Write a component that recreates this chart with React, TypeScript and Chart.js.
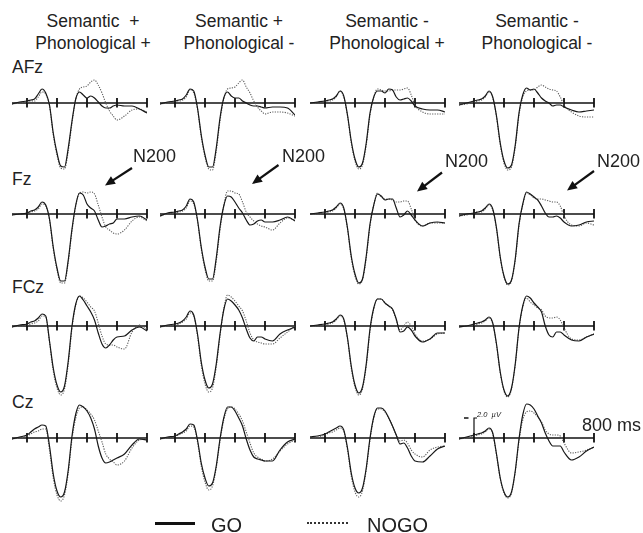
import { useEffect, useRef } from "react";
import { Chart, registerables } from "chart.js";

Chart.register(...registerables);

// ---------- data ----------
const TIMES_MS = [-100, -50, 0, 25, 50, 75, 100, 125, 150, 175, 200, 225, 250, 275, 300, 325, 350, 375, 400, 425, 450, 475, 500, 525, 550, 575, 600, 650, 700, 750, 800];
const TICKS_MS = [0, 200, 400, 600, 800];
const Y_MIN_UV = -7.5;
const Y_MAX_UV = 4;
const SCALE_BAR_UV = 2;

const CONDITION_TOP = ["Semantic  +", "Semantic +", "Semantic -", "Semantic -"];
const CONDITION_BOTTOM = ["Phonological +", "Phonological -", "Phonological +", "Phonological -"];
const ELECTRODES = ["AFz", "Fz", "FCz", "Cz"];
const SERIES_NAMES = ["GO", "NOGO"];
const ARROW_LABEL = "N200";
const TIME_LABEL = "800 ms";
const SCALE_LABEL = "2.0  µV";

// AFz
const AFZ_SPPP_GO = [-0.1, 0.1, 0.2, 0.3, 0.4, 0.9, 1.4, 1.0, -0.2, -3.0, -5.0, -6.3, -6.4, -4.5, -1.8, 0.4, 1.1, 0.8, 0.5, 0.7, 0.5, 0.1, -0.3, -0.5, -0.5, -0.3, -0.2, -0.3, -0.3, -0.6, -1.0];
const AFZ_SPPP_NOGO = [-0.1, 0.0, 0.1, 0.2, 0.2, 0.6, 1.1, 0.9, -0.3, -3.2, -5.2, -6.5, -6.6, -4.8, -2.0, 0.4, 1.4, 1.6, 1.7, 2.1, 2.3, 1.8, 1.0, 0.0, -0.8, -1.3, -1.7, -1.3, -0.7, -0.6, -0.9];
const AFZ_SPPN_GO = [-0.1, 0.1, 0.2, 0.3, 0.4, 0.8, 1.4, 1.2, -0.5, -3.2, -5.2, -6.4, -6.4, -4.5, -1.5, 0.5, 1.1, 0.7, 0.5, 0.5, 0.2, 0.0, -0.2, -0.3, -0.3, -0.4, -0.5, -0.4, -0.4, -0.5, -1.2];
const AFZ_SPPN_NOGO = [-0.1, 0.0, 0.2, 0.2, 0.3, 0.6, 1.3, 1.0, -0.6, -3.4, -5.4, -6.6, -6.7, -4.8, -1.8, 0.4, 1.4, 1.5, 1.6, 2.0, 2.3, 1.6, 1.0, 0.2, -0.4, -0.8, -1.1, -0.9, -0.9, -1.0, -1.3];
const AFZ_SNPP_GO = [0.0, 0.1, 0.2, 0.3, 0.4, 0.7, 1.2, 0.7, -1.2, -3.8, -5.6, -6.4, -6.0, -4.0, -1.0, 0.6, 1.2, 1.2, 1.0, 1.4, 1.3, 0.6, 0.3, 0.4, 0.5, 0.2, -0.3, -0.6, -0.7, -0.7, -0.9];
const AFZ_SNPP_NOGO = [0.0, 0.0, 0.2, 0.2, 0.3, 0.6, 1.2, 0.6, -1.3, -4.0, -5.8, -6.6, -6.2, -4.2, -1.2, 0.6, 1.4, 1.3, 1.2, 1.2, 1.3, 1.3, 1.3, 1.4, 1.5, 0.8, -0.2, -0.9, -1.1, -1.1, -1.1];
const AFZ_SNPN_GO = [-0.2, 0.0, 0.2, 0.3, 0.4, 0.7, 1.2, 0.6, -1.3, -4.0, -5.8, -6.5, -6.2, -4.2, -1.0, 0.8, 1.5, 1.3, 1.4, 1.0, 0.5, 0.2, 0.0, -0.3, -0.2, -0.2, -0.4, -0.7, -0.9, -0.8, -0.7];
const AFZ_SNPN_NOGO = [-0.2, -0.1, 0.1, 0.2, 0.3, 0.6, 1.1, 0.5, -1.4, -4.2, -6.0, -6.7, -6.4, -4.4, -1.2, 0.6, 1.2, 1.3, 1.3, 1.6, 1.8, 1.6, 1.4, 1.3, 1.2, 0.6, -0.2, -0.9, -1.3, -1.4, -1.4];

// Fz
const FZ_SPPP_GO = [-0.1, 0.0, 0.1, 0.3, 0.4, 0.7, 1.2, 0.9, -0.5, -3.3, -5.4, -6.7, -6.7, -4.6, -1.5, 0.9, 2.1, 1.9, 1.0, 0.6, 0.3, -0.6, -1.3, -1.2, -1.0, -0.9, -0.5, -0.5, -0.3, -0.2, -0.6];
const FZ_SPPP_NOGO = [-0.1, 0.0, 0.1, 0.2, 0.3, 0.5, 1.0, 0.8, -0.6, -3.5, -5.6, -6.9, -6.9, -4.8, -1.7, 0.8, 2.1, 2.2, 2.1, 2.2, 2.0, 0.9, -0.3, -1.3, -1.6, -1.9, -2.0, -1.6, -0.7, -0.3, -0.7];
const FZ_SPPN_GO = [-0.2, 0.1, 0.2, 0.3, 0.4, 0.8, 1.5, 1.2, -0.6, -3.3, -5.3, -6.5, -6.5, -4.4, -1.3, 0.8, 1.8, 1.7, 1.2, 0.6, 0.1, -0.6, -1.1, -1.0, -0.7, -0.6, -0.8, -0.8, -0.6, -0.3, -0.7];
const FZ_SPPN_NOGO = [-0.2, 0.0, 0.1, 0.2, 0.3, 0.6, 1.3, 1.0, -0.7, -3.5, -5.5, -6.7, -6.7, -4.7, -1.6, 0.8, 2.3, 2.3, 2.1, 2.0, 1.2, 0.2, -0.3, -0.7, -1.0, -1.2, -1.3, -1.6, -0.9, -0.4, -0.6];
const FZ_SNPP_GO = [0.0, 0.1, 0.2, 0.3, 0.4, 0.7, 1.1, 0.6, -1.4, -4.2, -6.0, -6.9, -6.5, -4.2, -1.0, 0.9, 2.0, 1.8, 1.4, 1.5, 1.5, 0.6, -0.3, -0.1, 0.3, -0.1, -0.6, -1.2, -0.9, -0.8, -0.9];
const FZ_SNPP_NOGO = [0.0, 0.0, 0.1, 0.2, 0.3, 0.6, 1.0, 0.5, -1.5, -4.4, -6.2, -7.0, -6.6, -4.4, -1.2, 0.9, 2.1, 1.7, 1.5, 1.5, 1.4, 1.2, 1.2, 1.3, 1.3, 0.5, -0.6, -1.2, -0.9, -0.9, -0.9];
const FZ_SNPN_GO = [-0.2, 0.0, 0.1, 0.2, 0.3, 0.6, 1.0, 0.5, -1.4, -4.3, -6.2, -7.0, -6.6, -4.5, -1.0, 1.0, 2.2, 2.0, 1.7, 1.4, 0.8, 0.1, -0.3, -0.3, -0.2, -0.4, -0.8, -1.2, -1.1, -0.8, -0.7];
const FZ_SNPN_NOGO = [-0.2, -0.1, 0.1, 0.2, 0.2, 0.5, 0.9, 0.4, -1.5, -4.4, -6.3, -7.1, -6.7, -4.6, -1.2, 0.9, 2.1, 1.9, 1.6, 1.5, 1.5, 1.4, 1.3, 1.2, 1.2, 0.8, -0.2, -1.1, -1.2, -0.9, -1.1];

// FCz
const FCZ_SPPP_GO = [-0.1, 0.1, 0.2, 0.4, 0.5, 0.8, 1.2, 1.0, -1.5, -4.2, -5.9, -6.6, -6.0, -3.5, 0.0, 2.2, 3.0, 2.6, 2.0, 1.4, 0.6, -0.7, -1.8, -2.2, -1.9, -1.4, -1.1, -1.0, -0.4, -0.1, -0.5];
const FCZ_SPPP_NOGO = [-0.1, 0.0, 0.1, 0.2, 0.3, 0.5, 1.0, 0.9, -1.6, -4.5, -6.2, -6.9, -6.3, -3.8, -0.2, 2.1, 3.0, 2.8, 2.4, 1.9, 1.5, 0.3, -1.0, -1.8, -1.9, -1.9, -2.1, -2.3, -0.6, 0.1, -0.3];
const FCZ_SPPN_GO = [-0.1, 0.1, 0.2, 0.3, 0.5, 0.9, 1.5, 1.1, -0.8, -3.6, -5.4, -6.2, -5.8, -3.8, -0.8, 1.6, 2.7, 2.5, 2.1, 1.6, 0.8, -0.3, -1.2, -1.5, -1.1, -1.1, -1.3, -1.5, -0.8, -0.4, -0.1];
const FCZ_SPPN_NOGO = [-0.1, 0.0, 0.1, 0.2, 0.4, 0.7, 1.3, 1.0, -1.0, -3.9, -5.8, -6.6, -6.2, -4.1, -1.0, 1.7, 3.1, 2.9, 2.5, 2.0, 1.5, 0.5, -0.7, -1.4, -1.6, -1.7, -1.8, -1.8, -1.2, -0.6, 0.0];
const FCZ_SNPP_GO = [0.0, 0.1, 0.2, 0.3, 0.4, 0.7, 1.1, 0.7, -1.2, -4.0, -5.9, -6.7, -6.1, -3.8, -0.3, 1.8, 2.7, 2.7, 2.3, 2.0, 1.7, 0.7, -0.6, -0.5, -0.1, -0.4, -1.0, -1.6, -1.3, -0.7, -0.7];
const FCZ_SNPP_NOGO = [0.0, 0.0, 0.1, 0.2, 0.3, 0.6, 1.0, 0.6, -1.3, -4.2, -6.1, -6.9, -6.3, -4.0, -0.5, 1.7, 2.7, 2.7, 2.3, 2.0, 1.6, 0.6, -0.4, 0.0, 0.4, 0.0, -0.8, -1.5, -1.3, -0.8, -0.7];
const FCZ_SNPN_GO = [-0.1, 0.0, 0.2, 0.3, 0.4, 0.6, 0.9, 0.3, -1.8, -4.6, -6.4, -7.0, -6.2, -3.8, -0.2, 2.0, 3.0, 2.8, 2.3, 1.9, 1.4, 0.0, -0.9, -1.1, -0.6, -0.6, -0.9, -1.4, -1.5, -1.1, -0.8];
const FCZ_SNPN_NOGO = [-0.1, 0.0, 0.1, 0.2, 0.3, 0.5, 0.8, 0.2, -1.9, -4.7, -6.5, -7.1, -6.3, -3.9, -0.3, 1.9, 2.8, 2.4, 2.1, 1.8, 1.6, 1.0, 0.8, 0.8, 0.9, 0.6, -0.2, -1.3, -1.4, -1.1, -0.8];

// Cz
const CZ_SPPP_GO = [-0.1, 0.1, 0.3, 0.6, 0.9, 1.1, 1.3, 1.2, -0.8, -3.6, -5.3, -5.9, -5.4, -3.2, 0.2, 2.4, 3.3, 3.1, 2.7, 2.0, 0.9, -0.8, -2.0, -2.5, -2.4, -2.2, -2.0, -1.6, -0.7, -0.1, -0.2];
const CZ_SPPP_NOGO = [-0.1, 0.0, 0.2, 0.4, 0.6, 0.7, 0.9, 0.9, -1.2, -4.0, -5.7, -6.3, -5.7, -3.5, -0.1, 2.0, 3.0, 3.1, 2.8, 2.4, 1.8, 0.7, -0.4, -1.6, -2.1, -2.4, -2.7, -2.3, -1.0, -0.2, -0.1];
const CZ_SPPN_GO = [-0.1, 0.1, 0.2, 0.4, 0.6, 0.9, 1.4, 1.3, -0.2, -2.5, -4.0, -4.8, -4.5, -2.8, -0.1, 2.0, 3.1, 3.1, 2.7, 2.0, 1.2, -0.1, -1.2, -1.9, -2.1, -2.2, -2.3, -2.3, -1.2, -0.4, -0.1];
const CZ_SPPN_NOGO = [-0.1, 0.0, 0.2, 0.3, 0.5, 0.7, 1.2, 1.1, -0.4, -2.8, -4.4, -5.2, -4.8, -3.0, -0.3, 1.8, 2.9, 3.1, 2.9, 2.4, 1.7, 0.6, -0.5, -1.5, -1.9, -2.1, -2.3, -2.1, -1.3, -0.6, -0.2];
const CZ_SNPP_GO = [0.1, 0.2, 0.4, 0.6, 0.8, 1.0, 1.2, 0.8, -1.0, -3.5, -5.0, -5.5, -5.0, -3.0, 0.0, 2.1, 3.0, 3.0, 2.7, 2.0, 1.2, 0.3, -0.6, -0.5, -1.0, -1.8, -2.3, -2.4, -1.8, -1.1, -0.8];
const CZ_SNPP_NOGO = [0.1, 0.1, 0.3, 0.5, 0.6, 0.8, 1.0, 0.7, -1.2, -3.8, -5.4, -5.9, -5.3, -3.2, -0.2, 2.0, 2.9, 2.9, 2.6, 2.0, 1.2, 0.3, -0.3, -0.2, -0.5, -1.2, -1.6, -1.9, -1.2, -0.9, -0.8];
const CZ_SNPN_GO = [-0.1, 0.1, 0.3, 0.4, 0.5, 0.7, 1.0, 0.5, -1.6, -4.0, -5.4, -5.9, -5.4, -3.3, -0.1, 2.3, 3.4, 3.3, 2.9, 2.2, 1.5, 0.5, -0.3, -0.8, -0.8, -0.8, -1.4, -2.2, -1.9, -1.3, -0.9];
const CZ_SNPN_NOGO = [-0.1, 0.0, 0.2, 0.3, 0.4, 0.6, 0.9, 0.4, -1.7, -4.1, -5.5, -6.0, -5.5, -3.4, -0.3, 1.8, 2.6, 2.7, 2.5, 2.1, 1.6, 0.8, 0.4, 0.3, 0.3, 0.2, -0.5, -1.5, -1.4, -1.2, -0.9];

const GO_ROWS = [
  [AFZ_SPPP_GO, AFZ_SPPN_GO, AFZ_SNPP_GO, AFZ_SNPN_GO],
  [FZ_SPPP_GO, FZ_SPPN_GO, FZ_SNPP_GO, FZ_SNPN_GO],
  [FCZ_SPPP_GO, FCZ_SPPN_GO, FCZ_SNPP_GO, FCZ_SNPN_GO],
  [CZ_SPPP_GO, CZ_SPPN_GO, CZ_SNPP_GO, CZ_SNPN_GO],
];
const NOGO_ROWS = [
  [AFZ_SPPP_NOGO, AFZ_SPPN_NOGO, AFZ_SNPP_NOGO, AFZ_SNPN_NOGO],
  [FZ_SPPP_NOGO, FZ_SPPN_NOGO, FZ_SNPP_NOGO, FZ_SNPN_NOGO],
  [FCZ_SPPP_NOGO, FCZ_SPPN_NOGO, FCZ_SNPP_NOGO, FCZ_SNPN_NOGO],
  [CZ_SPPP_NOGO, CZ_SPPN_NOGO, CZ_SNPP_NOGO, CZ_SNPN_NOGO],
];

// ---------- layout ----------
const FONT = "'Liberation Sans', Arial, Helvetica, sans-serif";
const TEXT_COLOR = "#222";
const COL_ZERO_X = [27, 175, 325, 474];
const ROW_ZERO_Y = [103, 214, 326, 438];
const PAD = 5;
const PX_PER_MS = 0.15;
const PX_PER_UV = 10;
const PLOT_W = (TIMES_MS[TIMES_MS.length - 1] - TIMES_MS[0]) * PX_PER_MS;
const PLOT_H = (Y_MAX_UV - Y_MIN_UV) * PX_PER_UV;
const CANVAS_W = PLOT_W + PAD * 2;
const CANVAS_H = PLOT_H + PAD * 2;
const TITLE_CX = [93, 239, 387, 537];
const ARROWS = [
  { x1: 132, y1: 168, x2: 105, y2: 185.5, tx: 133, ty: 162 },
  { x1: 278.5, y1: 165, x2: 252, y2: 184, tx: 282, ty: 162 },
  { x1: 442, y1: 172.5, x2: 417, y2: 191.5, tx: 445, ty: 167 },
  { x1: 594, y1: 171, x2: 567, y2: 190.5, tx: 597, ty: 167 },
];

const erpAxis = {
  id: "erpAxis",
  beforeDatasetsDraw(chart: any, _args: any, opts: any) {
    const { ctx, scales } = chart;
    const x = scales.x;
    const y = scales.y;
    const y0 = y.getPixelForValue(0);
    ctx.save();
    ctx.strokeStyle = "#111";
    ctx.lineWidth = 1.6;
    ctx.beginPath();
    ctx.moveTo(x.getPixelForValue(TIMES_MS[0]), y0);
    ctx.lineTo(x.getPixelForValue(TICKS_MS[TICKS_MS.length - 1]), y0);
    ctx.stroke();
    ctx.lineWidth = 1.8;
    ctx.beginPath();
    TICKS_MS.forEach((t) => {
      const px = x.getPixelForValue(t);
      ctx.moveTo(px, y0 - 5);
      ctx.lineTo(px, y0 + 4.5);
    });
    ctx.stroke();
    if (opts && opts.scaleBar) {
      const px = x.getPixelForValue(0);
      const yt = y.getPixelForValue(SCALE_BAR_UV);
      ctx.lineWidth = 1.2;
      ctx.beginPath();
      ctx.moveTo(px, y0);
      ctx.lineTo(px, yt);
      ctx.lineTo(px + 3, yt);
      ctx.stroke();
      ctx.lineWidth = 1.5;
      ctx.beginPath();
      ctx.moveTo(px - 10, yt);
      ctx.lineTo(px - 5.5, yt);
      ctx.stroke();
    }
    ctx.restore();
  },
};

function Panel({ go, nogo, left, top, scaleBar }: { go: number[]; nogo: number[]; left: number; top: number; scaleBar: boolean }) {
  const ref = useRef<HTMLCanvasElement>(null);
  useEffect(() => {
    if (!ref.current) return;
    const chart = new Chart(ref.current, {
      type: "line",
      data: {
        datasets: [
          {
            label: SERIES_NAMES[0],
            data: TIMES_MS.map((t, i) => ({ x: t, y: go[i] })),
            borderColor: "#181818",
            borderWidth: 1.2,
            pointRadius: 0,
            cubicInterpolationMode: "monotone",
            fill: false,
          },
          {
            label: SERIES_NAMES[1],
            data: TIMES_MS.map((t, i) => ({ x: t, y: nogo[i] })),
            borderColor: "#5c5c5c",
            borderWidth: 1.1,
            borderDash: [1.2, 1.3],
            pointRadius: 0,
            cubicInterpolationMode: "monotone",
            fill: false,
          },
        ],
      },
      options: {
        responsive: false,
        animation: false,
        events: [],
        layout: { padding: PAD },
        scales: {
          x: { type: "linear", min: TIMES_MS[0], max: TIMES_MS[TIMES_MS.length - 1], display: false },
          y: { type: "linear", min: Y_MIN_UV, max: Y_MAX_UV, display: false },
        },
        plugins: {
          legend: { display: false },
          tooltip: { enabled: false },
          erpAxis: { scaleBar },
        } as any,
      },
      plugins: [erpAxis],
    } as any);
    return () => chart.destroy();
  }, [go, nogo, scaleBar]);
  return (
    <canvas
      ref={ref}
      width={CANVAS_W}
      height={CANVAS_H}
      style={{ position: "absolute", left, top, width: CANVAS_W, height: CANVAS_H }}
    />
  );
}

function Txt({ x, baseline, size, children, center, width, italic }: any) {
  const top = baseline - size * 0.8465;
  const style: any = {
    position: "absolute",
    top,
    fontSize: size,
    lineHeight: `${size}px`,
    fontFamily: FONT,
    color: TEXT_COLOR,
    whiteSpace: "pre",
    fontStyle: italic ? "italic" : "normal",
  };
  if (center) {
    style.left = x - width / 2;
    style.width = width;
    style.textAlign = "center";
  } else {
    style.left = x;
  }
  return <div style={style}>{children}</div>;
}

function Arrow({ x1, y1, x2, y2 }: { x1: number; y1: number; x2: number; y2: number }) {
  const ang = Math.atan2(y2 - y1, x2 - x1);
  const len = 10;
  const hw = 4.5;
  const bx = x2 - Math.cos(ang) * len;
  const by = y2 - Math.sin(ang) * len;
  const nx = -Math.sin(ang);
  const ny = Math.cos(ang);
  const pts = `${x2},${y2} ${bx + nx * hw},${by + ny * hw} ${bx - nx * hw},${by - ny * hw}`;
  return (
    <g>
      <line x1={x1} y1={y1} x2={bx + Math.cos(ang) * 2} y2={by + Math.sin(ang) * 2} stroke="#111" strokeWidth={2.2} />
      <polygon points={pts} fill="#111" />
    </g>
  );
}

export default function App() {
  const panels: any[] = [];
  ROW_ZERO_Y.forEach((zy, r) => {
    COL_ZERO_X.forEach((zx, c) => {
      panels.push(
        <Panel
          key={`${r}-${c}`}
          go={GO_ROWS[r][c]}
          nogo={NOGO_ROWS[r][c]}
          left={zx - (0 - TIMES_MS[0]) * PX_PER_MS - PAD}
          top={zy - Y_MAX_UV * PX_PER_UV - PAD}
          scaleBar={r === 3 && c === 3}
        />
      );
    });
  });
  const labelBaselines = [74, 186, 294, 409];
  return (
    <div style={{ position: "absolute", left: 0, top: 0, width: 643, height: 533, overflow: "hidden", background: "#fff" }}>
      {CONDITION_TOP.map((t, i) => (
        <Txt key={`t${i}`} x={TITLE_CX[i]} baseline={28} size={17.5} center width={180}>{t}</Txt>
      ))}
      {CONDITION_BOTTOM.map((t, i) => (
        <Txt key={`b${i}`} x={TITLE_CX[i]} baseline={50} size={17.5} center width={180}>{t}</Txt>
      ))}
      {ELECTRODES.map((e, i) => (
        <Txt key={`e${i}`} x={12} baseline={labelBaselines[i]} size={17.5}>{e}</Txt>
      ))}
      {panels}
      <svg width={643} height={533} style={{ position: "absolute", left: 0, top: 0, pointerEvents: "none" }}>
        {ARROWS.map((a, i) => (
          <Arrow key={i} x1={a.x1} y1={a.y1} x2={a.x2} y2={a.y2} />
        ))}
      </svg>
      {ARROWS.map((a, i) => (
        <Txt key={`n${i}`} x={a.tx} baseline={a.ty} size={18}>{ARROW_LABEL}</Txt>
      ))}
      <Txt x={582} baseline={431.5} size={18}>{TIME_LABEL}</Txt>
      <Txt x={477} baseline={417} size={7.5} italic>{SCALE_LABEL}</Txt>
      <div style={{ position: "absolute", left: 155, top: 521.5, width: 40, height: 3, background: "#111" }} />
      <Txt x={211} baseline={532} size={20}>{SERIES_NAMES[0]}</Txt>
      <div style={{ position: "absolute", left: 307, top: 522, width: 41, height: 0, borderTop: "2px dotted #333" }} />
      <Txt x={367} baseline={532} size={20}>{SERIES_NAMES[1]}</Txt>
    </div>
  );
}
